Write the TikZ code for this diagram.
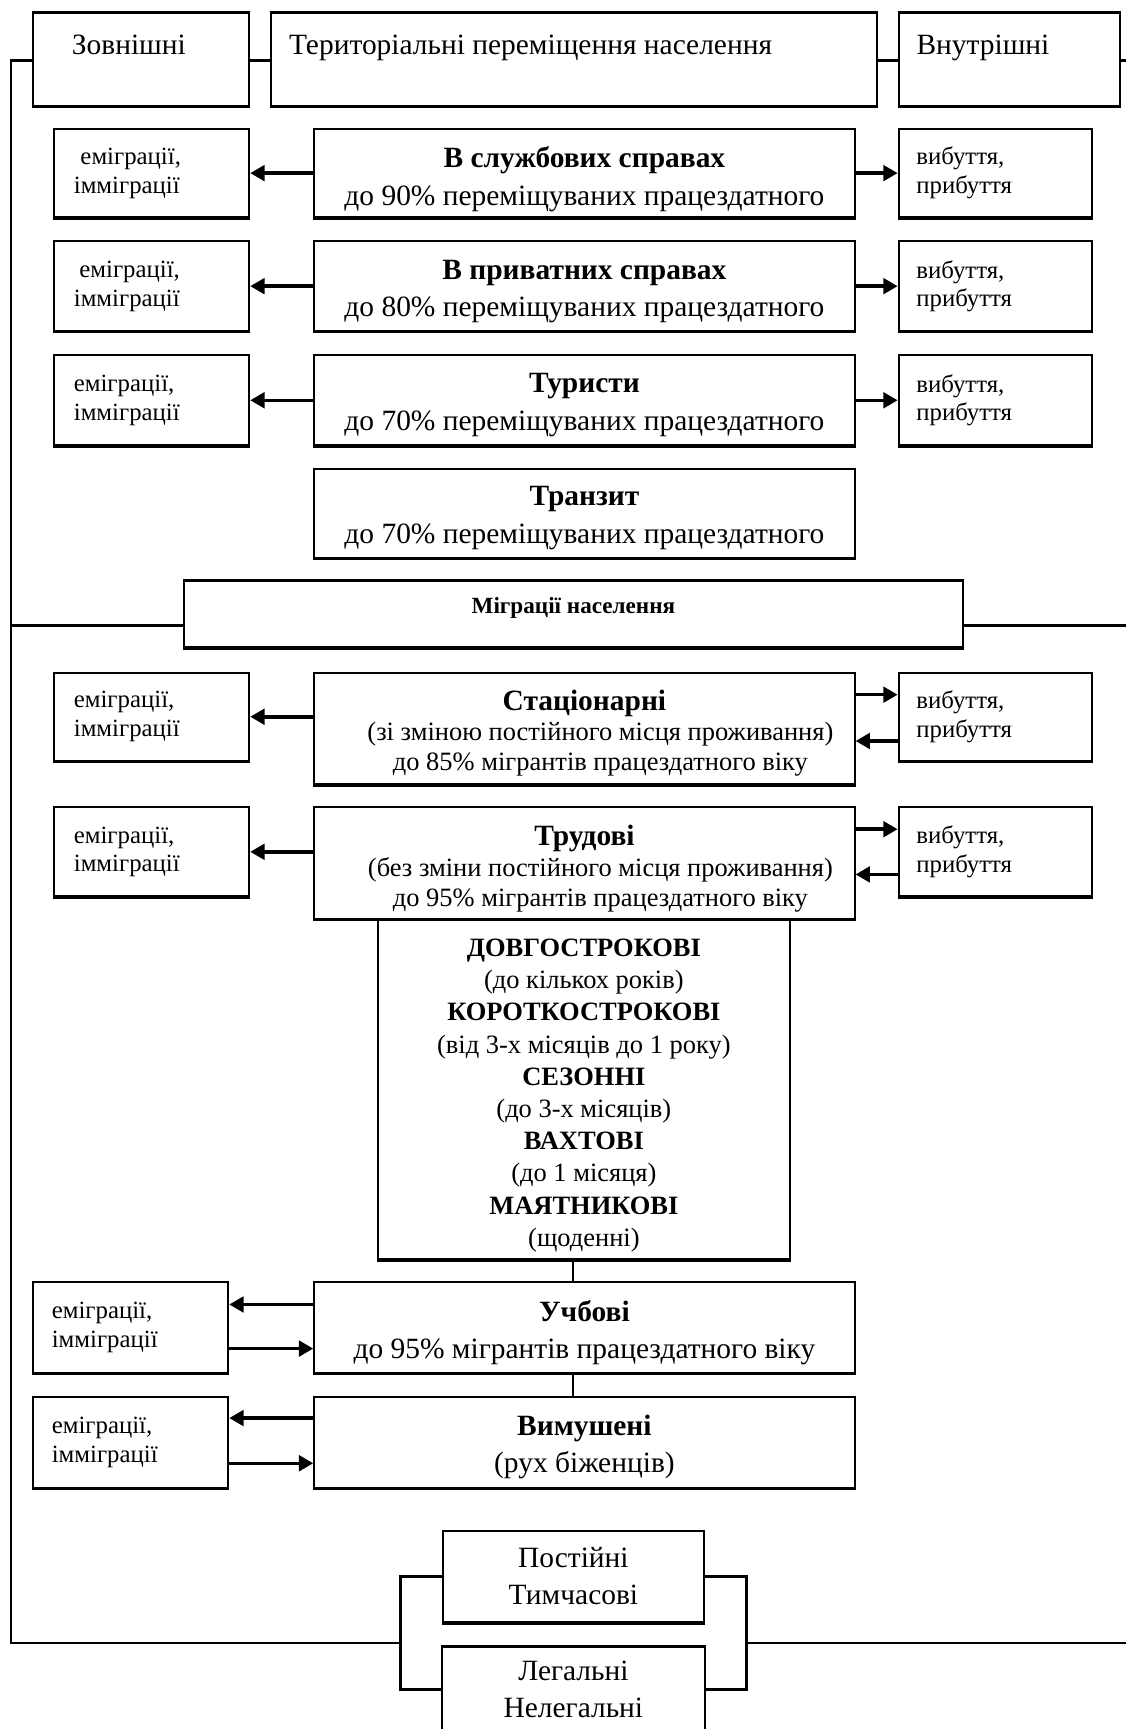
\documentclass[tikz,border=0pt]{standalone}
\usepackage{fontspec}
\setmainfont{Liberation Serif}
\usetikzlibrary{arrows.meta}
\newcommand\fBig{\fontsize{26.7}{34}\selectfont}
\newcommand\fMid{\fontsize{24}{27.5}\selectfont}
\newcommand\fSm{\fontsize{22.5}{26}\selectfont}
\newcommand\fLst{\fontsize{24}{29.2}\selectfont}
\newcommand\fMig{\fontsize{21}{24}\selectfont}
\newcommand\fTtl{\fontsize{26.7}{27.5}\selectfont\bfseries}
\begin{document}
\begin{tikzpicture}[x=1pt,y=-1pt,
  box/.style={draw, line width=1.8pt, rectangle, inner sep=0pt, align=center},
  cbox/.style={box, minimum width=490pt},
  ctxt/.style={inner sep=0pt, align=center, font=\fBig},
  lbox/.style={box, text width=141pt, inner xsep=18pt, align=left, font=\fSm},
  lboxb/.style={box, text width=143pt, inner xsep=17pt, align=left, font=\fSm},
  rbox/.style={box, text width=143pt, inner xsep=16pt, align=left, font=\fSm},
  toptxt/.style={anchor=base west, inner sep=0pt, font=\fBig},
  frame/.style={line width=2.6pt},
  thin/.style={line width=1.8pt},
  thick/.style={line width=2.8pt},
  arr/.style={line width=3.2pt, -{Triangle[length=13pt,width=14pt]}}]
\fill[white] (0,0) rectangle (1021,1568);
\useasboundingbox (0,0) rectangle (1021,1568);

% top row
\node[box, minimum width=196pt, minimum height=84pt] (zov) at (128,54) {};
\node[toptxt] (zovT) at (65,49) {Зовнішні};
\node[box, minimum width=549pt, minimum height=84pt] (ter) at (520.5,54) {};
\node[toptxt] (terT) at (262,49) {Територіальні переміщення населення};
\node[box, minimum width=201pt, minimum height=84pt] (vnu) at (915.5,54) {};
\node[toptxt] (vnuT) at (831,49) {Внутрішні};

% row 1
\node[lbox, minimum height=80pt] (l1) at (137.5,157) {\hspace*{6pt}еміграції,\\імміграції};
\node[cbox, minimum height=80pt] (c1) at (530,157) {};
\node[ctxt] (c1t) at (530,162.5) {\textbf{В службових справах}\\до 90\% переміщуваних працездатного};
\node[rbox, minimum height=80pt] (r1) at (902.5,157) {вибуття,\\прибуття};
% row 2
\node[lbox, minimum height=81pt] (l2) at (137.5,259.5) {\hspace*{5pt}еміграції,\\імміграції};
\node[cbox, minimum height=81pt] (c2) at (530,259.5) {};
\node[ctxt] (c2t) at (530,264.5) {\textbf{В приватних справах}\\до 80\% переміщуваних працездатного};
\node[rbox, minimum height=81pt] (r2) at (902.5,259.5) {вибуття,\\прибуття};
% row 3
\node[lbox, minimum height=82pt] (l3) at (137.5,363) {еміграції,\\імміграції};
\node[cbox, minimum height=82pt] (c3) at (530,363) {};
\node[ctxt] (c3t) at (530,367.5) {\textbf{Туристи}\\до 70\% переміщуваних працездатного};
\node[rbox, minimum height=82pt] (r3) at (902.5,363) {вибуття,\\прибуття};
% row 4
\node[cbox, minimum height=81pt] (c4) at (530,465.5) {};
\node[ctxt] (c4t) at (530,470) {\textbf{Транзит}\\до 70\% переміщуваних працездатного};

% migrations
\node[box, minimum width=706pt, minimum height=60pt] (mig) at (520,557) {};
\node[inner sep=0pt, font=\fMig\bfseries] (migT) at (520,551) {Міграції населення};

% stationary
\node[lbox, minimum height=80pt] (l5) at (137.5,650) {еміграції,\\імміграції};
\node[cbox, minimum height=101pt] (c5) at (530,660.5) {};
\node[ctxt, font=\fMid] (c5t) at (530,665) {{\fTtl Стаціонарні}\\\hspace*{29pt}(зі зміною постійного місця проживання)\\\hspace*{29pt}до 85\% мігрантів працездатного віку};
\node[rbox, minimum height=80pt] (r5) at (902.5,650) {вибуття,\\прибуття};
% labour
\node[lbox, minimum height=81pt] (l6) at (137.5,772.5) {еміграції,\\імміграції};
\node[cbox, minimum height=101pt] (c6) at (530,782.5) {};
\node[ctxt, font=\fMid] (c6t) at (530,788) {{\fTtl Трудові}\\\hspace*{29pt}(без зміни постійного місця проживання)\\\hspace*{29pt}до 95\% мігрантів працездатного віку};
\node[rbox, minimum height=81pt] (r6) at (902.5,772.5) {вибуття,\\прибуття};

% big list
\node[box, minimum width=373pt, minimum height=309pt] (big) at (529.5,987.5) {};
\node[ctxt, font=\fLst] (bigT) at (529.5,993.5) {\textbf{ДОВГОСТРОКОВІ}\\(до кількох років)\\\textbf{КОРОТКОСТРОКОВІ}\\(від 3-х місяців до 1 року)\\\textbf{СЕЗОННІ}\\(до 3-х місяців)\\\textbf{ВАХТОВІ}\\(до 1 місяця)\\\textbf{МАЯТНИКОВІ}\\(щоденні)};

% study
\node[lboxb, minimum height=82pt] (l7) at (118.5,1204) {еміграції,\\імміграції};
\node[cbox, minimum height=82pt] (c7) at (530,1204) {};
\node[ctxt] (c7t) at (530,1208.5) {\textbf{Учбові}\\до 95\% мігрантів працездатного віку};
% forced
\node[lboxb, minimum height=82pt] (l8) at (118.5,1308) {еміграції,\\імміграції};
\node[cbox, minimum height=82pt] (c8) at (530,1308) {};
\node[ctxt] (c8t) at (530,1312) {\textbf{Вимушені}\\(рух біженців)};

% bottom
\node[box, minimum width=236pt, minimum height=83pt, font=\fBig] (pt) at (520,1429.5) {Постійні\\Тимчасові};
\node[box, draw=none, minimum width=236pt, minimum height=76pt, font=\fBig] (ln) at (520,1532) {Легальні\\Нелегальні};
\draw[line width=1.8pt] (ln.south west) |- (ln.north east) -- (ln.south east);

% thick bottom / top edges
\foreach \n in {zov,ter,vnu,l1,c1,r1,l2,c2,r2,l3,c3,r3,c4,mig,l5,c5,r5,l6,c6,r6,big,l7,c7,l8,c8,pt}
  \draw[thick] (\n.south west) -- (\n.south east);
\foreach \n in {zov,ter,vnu,mig,ln}
  \draw[thick] (\n.north west) -- (\n.north east);

% frame lines
\coordinate (fTL) at (10,55);
\coordinate (fTR) at (1021,55);
\coordinate (fM) at (0,567);
\coordinate (fB) at (0,1490);
\coordinate (bxL) at (363,0);
\coordinate (bxR) at (677,0);
\coordinate (vx) at (520,0);
\draw[frame] (zov.west |- fTL) -- (fTL) -- (fTL |- fB) -- (bxL |- fB);
\draw[frame] (bxR |- fB) -- (fTR |- fB);
\draw[frame] (zov.east |- fTL) -- (ter.west |- fTL);
\draw[frame] (ter.east |- fTL) -- (vnu.west |- fTL);
\draw[frame] (vnu.east |- fTL) -- (fTR);
\draw[frame] (fTL |- fM) -- (mig.west |- fM);
\draw[frame] (mig.east |- fM) -- (fTR |- fM);
\draw[frame] (pt.west) -| (bxL |- ln.west) -- (ln.west);
\draw[frame] (pt.east) -| (bxR |- ln.east) -- (ln.east);

% vertical connectors
\draw[thin] (big.south -| vx) -- (c7.north -| vx);
\draw[thin] (c7.south -| vx) -- (c8.north -| vx);

% arrows rows 1-3
\draw[arr] (c1.west) -- (l1.east);
\draw[arr] (c1.east) -- (r1.west);
\draw[arr] (c2.west) -- (l2.east);
\draw[arr] (c2.east) -- (r2.west);
\draw[arr] (c3.west) -- (l3.east);
\draw[arr] (c3.east) -- (r3.west);

% stationary arrows
\draw[arr] (l5.east -| c5.west) -- (l5.east);
\coordinate (s5u) at ([yshift=20pt]r5.west);
\coordinate (s5d) at ([yshift=-22pt]r5.west);
\draw[arr] (s5u -| c5.east) -- (s5u);
\draw[arr] (s5d) -- (s5d -| c5.east);
% labour arrows
\draw[arr] (l6.east -| c6.west) -- (l6.east);
\coordinate (s6u) at ([yshift=20.5pt]r6.west);
\coordinate (s6d) at ([yshift=-20.5pt]r6.west);
\draw[arr] (s6u -| c6.east) -- (s6u);
\draw[arr] (s6d) -- (s6d -| c6.east);
% study arrows
\coordinate (s7u) at ([yshift=21pt]l7.east);
\coordinate (s7d) at ([yshift=-19pt]l7.east);
\draw[arr] (s7u -| c7.west) -- (s7u);
\draw[arr] (s7d) -- (s7d -| c7.west);
% forced arrows
\coordinate (s8u) at ([yshift=22pt]l8.east);
\coordinate (s8d) at ([yshift=-19pt]l8.east);
\draw[arr] (s8u -| c8.west) -- (s8u);
\draw[arr] (s8d) -- (s8d -| c8.west);
\end{tikzpicture}
\end{document}
